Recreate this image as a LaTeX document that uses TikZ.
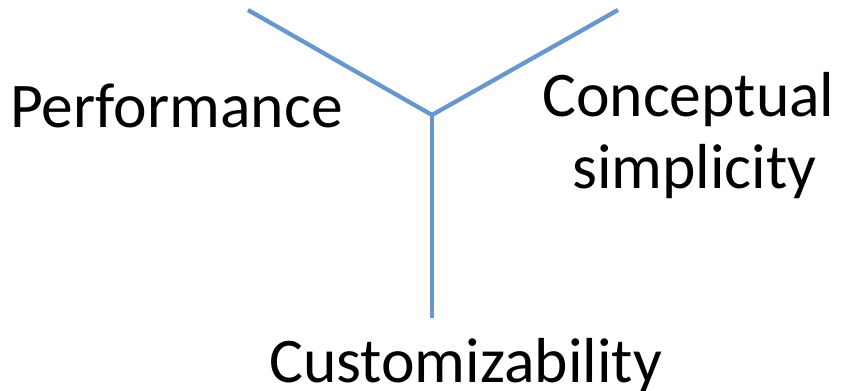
\documentclass[tikz,border=0pt]{standalone}
\usepackage{fontspec}
\setmainfont{Carlito}
\definecolor{linecol}{RGB}{104,151,205}
\begin{document}
\begin{tikzpicture}[x=1pt,y=-1pt,
  arm/.style={draw=linecol,line width=4.3pt},
  lbl/.style={inner sep=0pt,anchor=base west,font=\fontsize{63.6}{73}\selectfont}]
\useasboundingbox (0,0) rectangle (841,391);
\coordinate (tl) at (248,10);
\coordinate (tr) at (618,10);
\coordinate (j) at (432,115);
\coordinate (b) at (432,318);
\draw[arm,line join=miter] (tl) -- (j) -- (tr);
\draw[arm] (j) -- (b);
\node[lbl] (perf) at (10,127) {Performance};
\node[lbl] (conc) at (542,116) {Conceptual};
\node[lbl] (simp) at (572,188) {simplicity};
\node[lbl] (cust) at (269,382) {Customizability};
\end{tikzpicture}
\end{document}
